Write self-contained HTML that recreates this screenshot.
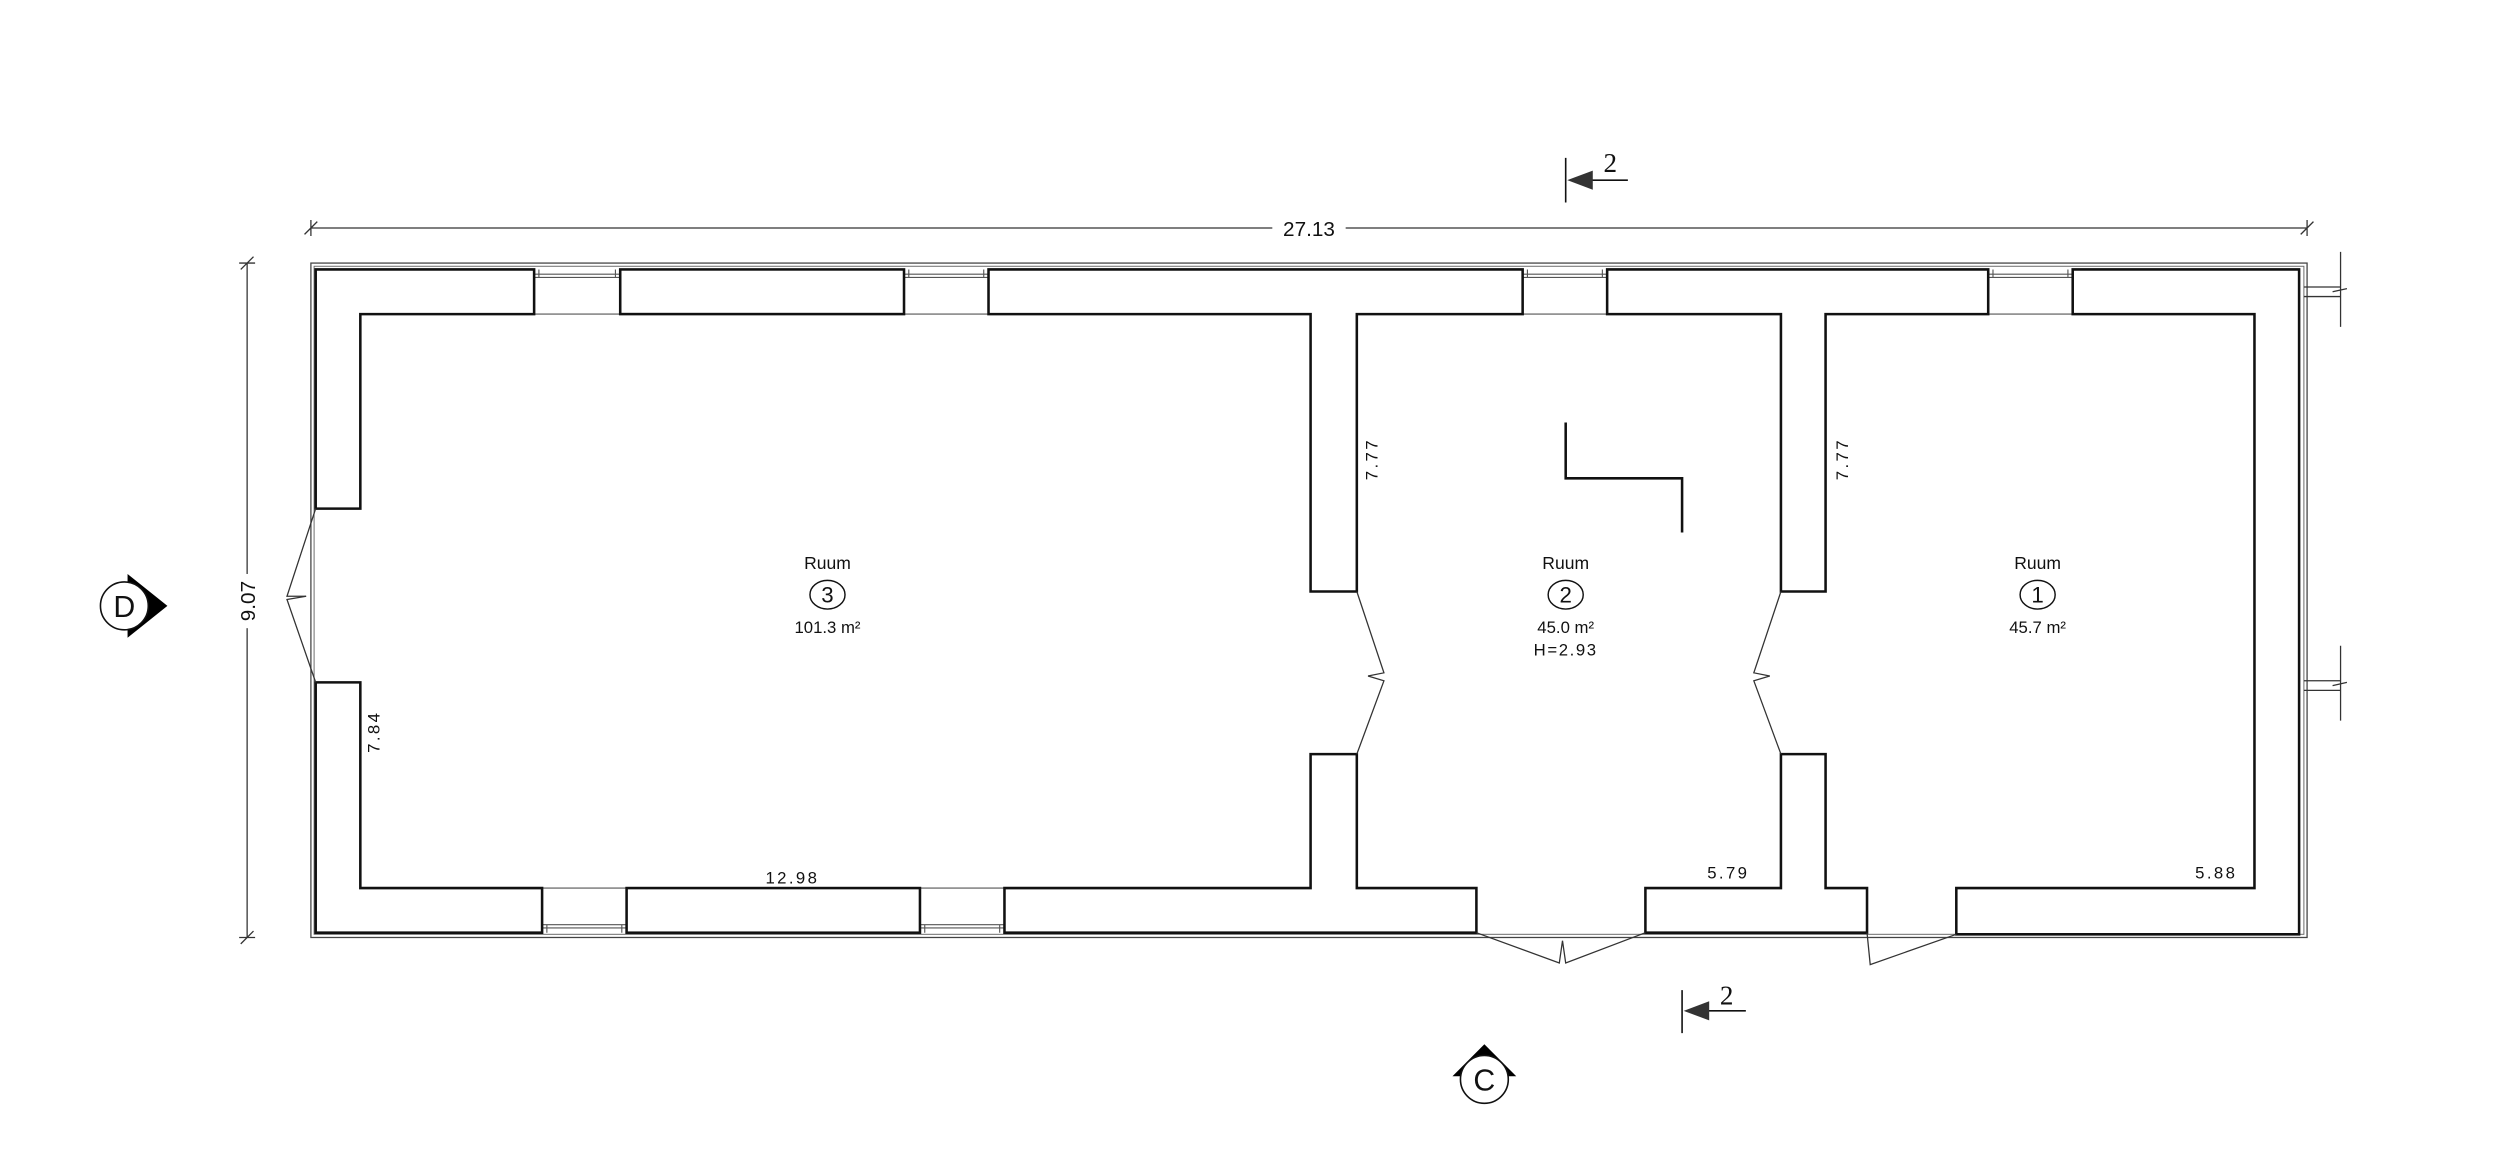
<!DOCTYPE html>
<html><head><meta charset="utf-8"><style>html,body{margin:0;padding:0;background:#fff}svg{display:block}</style></head><body>
<svg width="2500" height="1165" viewBox="0 0 1568 730.7" preserveAspectRatio="none" xmlns="http://www.w3.org/2000/svg" font-family="Liberation Sans, sans-serif">
<rect width="1568" height="731" fill="#fff"/>
<rect x="195" y="165" width="1252" height="423" fill="none" stroke="#444" stroke-width="0.8"/>
<rect x="197" y="167" width="1248" height="419" fill="none" stroke="#666" stroke-width="0.6"/>
<g stroke="#555" stroke-width="0.7" fill="none">
<path d="M335,172H389M335,174H389M335,197H389M338,169V174M386,169V174"/>
<path d="M567,172H620M567,174H620M567,197H620M570,169V174M617,169V174"/>
<path d="M955,172H1008M955,174H1008M955,197H1008M958,169V174M1005,169V174"/>
<path d="M1247,172H1300M1247,174H1300M1247,197H1300M1250,169V174M1297,169V174"/>
<path d="M340,580H393M340,582H393M340,557H393M343,580V585M390,580V585"/>
<path d="M577,580H630M577,582H630M577,557H630M580,580V585M627,580V585"/>
</g>
<g fill="#fff" stroke="#111" stroke-width="1.6" stroke-linejoin="miter">
<polygon points="198,169 335,169 335,197 226,197 226,319 198,319"/>
<rect x="389" y="169" width="178" height="28"/>
<polygon points="620,169 955,169 955,197 851,197 851,371 822,371 822,197 620,197"/>
<polygon points="1008,169 1247,169 1247,197 1145,197 1145,371 1117,371 1117,197 1008,197"/>
<polygon points="1300,169 1442,169 1442,586 1227,586 1227,557 1414,557 1414,197 1300,197"/>
<polygon points="198,428 226,428 226,557 340,557 340,585 198,585"/>
<rect x="393" y="557" width="184" height="28"/>
<polygon points="630,557 822,557 822,473 851,473 851,557 926,557 926,585 630,585"/>
<polygon points="1032,557 1117,557 1117,473 1145,473 1145,557 1171,557 1171,585 1032,585"/>
</g>
<g fill="none" stroke="#333" stroke-width="0.8">
<polyline points="198,319 180,374 192,374"/>
<polyline points="192,374 180,376 198,428"/>
<polyline points="851,371 868,422 858,424"/>
<polyline points="858,424 868,427 851,473"/>
<polyline points="1117,371 1100,422 1110,424"/>
<polyline points="1110,424 1100,427 1117,473"/>
<polyline points="926,585 978,604 980,590 982,604 1032,585"/>
<polyline points="1171,585 1173,605 1227,586"/>
</g>
<polyline points="982,265 982,300 1055,300 1055,334" fill="none" stroke="#111" stroke-width="1.6"/>
<g fill="none" stroke="#333" stroke-width="0.8">
<path d="M1445,180H1468M1445,186H1468M1468,158V205M1463,183L1472,181"/>
<path d="M1445,427H1468M1445,433H1468M1468,405V452M1463,430L1472,428"/>
</g>
<g stroke="#333" stroke-width="0.8" fill="none">
<path d="M195,143H1447M195,138V148M1447,138V148M191,147L199,139M1443,147L1451,139"/>
<path d="M155,165V588M150,165H160M150,588H160M151,169L159,161M151,592L159,584"/>
</g>
<rect x="798" y="136" width="46" height="14" fill="#fff"/>
<text x="821" y="148" font-size="13" text-anchor="middle" fill="#111">27.13</text>
<rect x="148" y="360" width="14" height="34" fill="#fff"/>
<text transform="translate(160,377) rotate(-90)" font-size="13" text-anchor="middle" fill="#111">9.07</text>
<g font-size="10.5" fill="#111" letter-spacing="1.5">
<text transform="translate(864,288) rotate(-90)" text-anchor="middle">7.77</text>
<text transform="translate(1159,288) rotate(-90)" text-anchor="middle">7.77</text>
<text transform="translate(238,459) rotate(-90)" text-anchor="middle">7.84</text>
<text x="497" y="554" text-anchor="middle">12.98</text>
<text x="1084" y="551" text-anchor="middle">5.79</text>
<text x="1390" y="551" text-anchor="middle">5.88</text>
</g>
<g font-size="11" fill="#111" text-anchor="middle">
<text x="519" y="357">Ruum</text>
<ellipse cx="519" cy="373" rx="11" ry="9" fill="none" stroke="#111" stroke-width="0.9"/>
<text x="519" y="378" font-size="14">3</text>
<text x="519" y="397" font-size="10.5">101.3 m²</text>
<text x="982" y="357">Ruum</text>
<ellipse cx="982" cy="373" rx="11" ry="9" fill="none" stroke="#111" stroke-width="0.9"/>
<text x="982" y="378" font-size="14">2</text>
<text x="982" y="397" font-size="10.5">45.0 m²</text>
<text x="982" y="411" font-size="10.5" letter-spacing="1">H=2.93</text>
<text x="1278" y="357">Ruum</text>
<ellipse cx="1278" cy="373" rx="11" ry="9" fill="none" stroke="#111" stroke-width="0.9"/>
<text x="1278" y="378" font-size="14">1</text>
<text x="1278" y="397" font-size="10.5">45.7 m²</text>
</g>
<g stroke="#111" stroke-width="1" fill="none">
<path d="M982,99V127M986,113H1021"/>
<path d="M1055,621V648M1059,634H1095"/>
</g>
<polygon points="983,113 999,107 999,119" fill="#333"/>
<polygon points="1056,634 1072,628 1072,640" fill="#333"/>
<text x="1010" y="108" font-family="Liberation Serif, serif" font-size="17" text-anchor="middle" fill="#111">2</text>
<text x="1083" y="630" font-family="Liberation Serif, serif" font-size="17" text-anchor="middle" fill="#111">2</text>
<polygon points="80,360 105,380 80,400" fill="#000"/>
<circle cx="78" cy="380" r="15" fill="#fff" stroke="#111" stroke-width="1"/>
<text x="78" y="387" font-size="19" text-anchor="middle" fill="#111">D</text>
<polygon points="911,675 931,655 951,675" fill="#000"/>
<circle cx="931" cy="677" r="15" fill="#fff" stroke="#111" stroke-width="1"/>
<text x="931" y="684" font-size="19" text-anchor="middle" fill="#111">C</text>
</svg>
</body></html>
